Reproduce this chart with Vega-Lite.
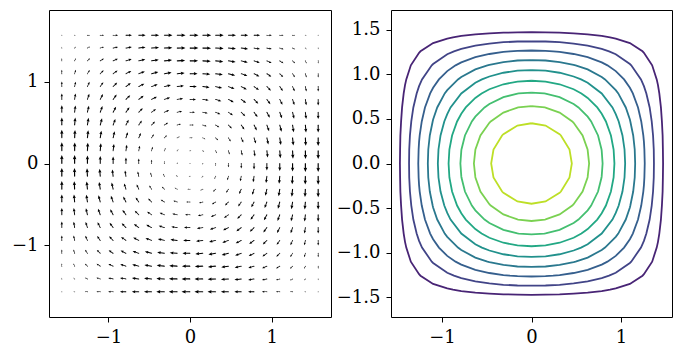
{
"$schema":"https://vega.github.io/schema/vega-lite/v6.json",
"padding":{"left":5,"top":9,"right":5,"bottom":5},
"config":{"font":"DejaVu Serif","view":{"stroke":"black","strokeWidth":1},"axis":{"domain":false,"grid":false,"labelFont":"DejaVu Serif","labelFontSize":18,"labelColor":"black","tickColor":"black","tickSize":5,"tickWidth":1,"labelPadding":6}},
"spacing":2,
"datasets":{
"quiver":[
{"x":-1.571,"y":-1.571,"a":0,"s":0},{"x":-1.414,"y":-1.571,"a":-90,"s":0.024},{"x":-1.257,"y":-1.571,"a":-90,"s":0.095},{"x":-1.1,"y":-1.571,"a":-90,"s":0.206},{"x":-0.942,"y":-1.571,"a":-90,"s":0.345},{"x":-0.785,"y":-1.571,"a":-90,"s":0.5},{"x":-0.628,"y":-1.571,"a":-90,"s":0.655},{"x":-0.471,"y":-1.571,"a":-90,"s":0.794},{"x":-0.314,"y":-1.571,"a":-90,"s":0.905},{"x":-0.157,"y":-1.571,"a":-90,"s":0.976},{"x":0,"y":-1.571,"a":-90,"s":1},{"x":0.157,"y":-1.571,"a":-90,"s":0.976},{"x":0.314,"y":-1.571,"a":-90,"s":0.905},{"x":0.471,"y":-1.571,"a":-90,"s":0.794},{"x":0.628,"y":-1.571,"a":-90,"s":0.655},{"x":0.785,"y":-1.571,"a":-90,"s":0.5},{"x":0.942,"y":-1.571,"a":-90,"s":0.345},{"x":1.1,"y":-1.571,"a":-90,"s":0.206},{"x":1.257,"y":-1.571,"a":-90,"s":0.095},{"x":1.414,"y":-1.571,"a":-90,"s":0.024},{"x":1.571,"y":-1.571,"a":-180,"s":0},
{"x":-1.571,"y":-1.414,"a":0,"s":0.024},{"x":-1.414,"y":-1.414,"a":-45,"s":0.048},{"x":-1.257,"y":-1.414,"a":-64,"s":0.115},{"x":-1.1,"y":-1.414,"a":-73,"s":0.221},{"x":-0.942,"y":-1.414,"a":-78,"s":0.353},{"x":-0.785,"y":-1.414,"a":-81,"s":0.5},{"x":-0.628,"y":-1.414,"a":-83,"s":0.647},{"x":-0.471,"y":-1.414,"a":-85,"s":0.779},{"x":-0.314,"y":-1.414,"a":-87,"s":0.885},{"x":-0.157,"y":-1.414,"a":-89,"s":0.952},{"x":0,"y":-1.414,"a":-90,"s":0.976},{"x":0.157,"y":-1.414,"a":-91,"s":0.952},{"x":0.314,"y":-1.414,"a":-93,"s":0.885},{"x":0.471,"y":-1.414,"a":-95,"s":0.779},{"x":0.628,"y":-1.414,"a":-97,"s":0.647},{"x":0.785,"y":-1.414,"a":-99,"s":0.5},{"x":0.942,"y":-1.414,"a":-102,"s":0.353},{"x":1.1,"y":-1.414,"a":-107,"s":0.221},{"x":1.257,"y":-1.414,"a":-116,"s":0.115},{"x":1.414,"y":-1.414,"a":-135,"s":0.048},{"x":1.571,"y":-1.414,"a":-180,"s":0.024},
{"x":-1.571,"y":-1.257,"a":0,"s":0.095},{"x":-1.414,"y":-1.257,"a":-26,"s":0.115},{"x":-1.257,"y":-1.257,"a":-45,"s":0.173},{"x":-1.1,"y":-1.257,"a":-58,"s":0.262},{"x":-0.942,"y":-1.257,"a":-66,"s":0.375},{"x":-0.785,"y":-1.257,"a":-72,"s":0.5},{"x":-0.628,"y":-1.257,"a":-77,"s":0.625},{"x":-0.471,"y":-1.257,"a":-81,"s":0.738},{"x":-0.314,"y":-1.257,"a":-84,"s":0.827},{"x":-0.157,"y":-1.257,"a":-87,"s":0.885},{"x":0,"y":-1.257,"a":-90,"s":0.905},{"x":0.157,"y":-1.257,"a":-93,"s":0.885},{"x":0.314,"y":-1.257,"a":-96,"s":0.827},{"x":0.471,"y":-1.257,"a":-99,"s":0.738},{"x":0.628,"y":-1.257,"a":-103,"s":0.625},{"x":0.785,"y":-1.257,"a":-108,"s":0.5},{"x":0.942,"y":-1.257,"a":-114,"s":0.375},{"x":1.1,"y":-1.257,"a":-122,"s":0.262},{"x":1.257,"y":-1.257,"a":-135,"s":0.173},{"x":1.414,"y":-1.257,"a":-154,"s":0.115},{"x":1.571,"y":-1.257,"a":-180,"s":0.095},
{"x":-1.571,"y":-1.1,"a":0,"s":0.206},{"x":-1.414,"y":-1.1,"a":-17,"s":0.221},{"x":-1.257,"y":-1.1,"a":-33,"s":0.262},{"x":-1.1,"y":-1.1,"a":-45,"s":0.327},{"x":-0.942,"y":-1.1,"a":-55,"s":0.409},{"x":-0.785,"y":-1.1,"a":-63,"s":0.5},{"x":-0.628,"y":-1.1,"a":-70,"s":0.591},{"x":-0.471,"y":-1.1,"a":-75,"s":0.673},{"x":-0.314,"y":-1.1,"a":-81,"s":0.738},{"x":-0.157,"y":-1.1,"a":-85,"s":0.779},{"x":0,"y":-1.1,"a":-90,"s":0.794},{"x":0.157,"y":-1.1,"a":-95,"s":0.779},{"x":0.314,"y":-1.1,"a":-99,"s":0.738},{"x":0.471,"y":-1.1,"a":-105,"s":0.673},{"x":0.628,"y":-1.1,"a":-110,"s":0.591},{"x":0.785,"y":-1.1,"a":-117,"s":0.5},{"x":0.942,"y":-1.1,"a":-125,"s":0.409},{"x":1.1,"y":-1.1,"a":-135,"s":0.327},{"x":1.257,"y":-1.1,"a":-147,"s":0.262},{"x":1.414,"y":-1.1,"a":-163,"s":0.221},{"x":1.571,"y":-1.1,"a":-180,"s":0.206},
{"x":-1.571,"y":-0.942,"a":0,"s":0.345},{"x":-1.414,"y":-0.942,"a":-12,"s":0.353},{"x":-1.257,"y":-0.942,"a":-24,"s":0.375},{"x":-1.1,"y":-0.942,"a":-35,"s":0.409},{"x":-0.942,"y":-0.942,"a":-45,"s":0.452},{"x":-0.785,"y":-0.942,"a":-54,"s":0.5},{"x":-0.628,"y":-0.942,"a":-62,"s":0.548},{"x":-0.471,"y":-0.942,"a":-70,"s":0.591},{"x":-0.314,"y":-0.942,"a":-77,"s":0.625},{"x":-0.157,"y":-0.942,"a":-83,"s":0.647},{"x":0,"y":-0.942,"a":-90,"s":0.655},{"x":0.157,"y":-0.942,"a":-97,"s":0.647},{"x":0.314,"y":-0.942,"a":-103,"s":0.625},{"x":0.471,"y":-0.942,"a":-110,"s":0.591},{"x":0.628,"y":-0.942,"a":-118,"s":0.548},{"x":0.785,"y":-0.942,"a":-126,"s":0.5},{"x":0.942,"y":-0.942,"a":-135,"s":0.452},{"x":1.1,"y":-0.942,"a":-145,"s":0.409},{"x":1.257,"y":-0.942,"a":-156,"s":0.375},{"x":1.414,"y":-0.942,"a":-168,"s":0.353},{"x":1.571,"y":-0.942,"a":-180,"s":0.345},
{"x":-1.571,"y":-0.785,"a":0,"s":0.5},{"x":-1.414,"y":-0.785,"a":-9,"s":0.5},{"x":-1.257,"y":-0.785,"a":-18,"s":0.5},{"x":-1.1,"y":-0.785,"a":-27,"s":0.5},{"x":-0.942,"y":-0.785,"a":-36,"s":0.5},{"x":-0.785,"y":-0.785,"a":-45,"s":0.5},{"x":-0.628,"y":-0.785,"a":-54,"s":0.5},{"x":-0.471,"y":-0.785,"a":-63,"s":0.5},{"x":-0.314,"y":-0.785,"a":-72,"s":0.5},{"x":-0.157,"y":-0.785,"a":-81,"s":0.5},{"x":0,"y":-0.785,"a":-90,"s":0.5},{"x":0.157,"y":-0.785,"a":-99,"s":0.5},{"x":0.314,"y":-0.785,"a":-108,"s":0.5},{"x":0.471,"y":-0.785,"a":-117,"s":0.5},{"x":0.628,"y":-0.785,"a":-126,"s":0.5},{"x":0.785,"y":-0.785,"a":-135,"s":0.5},{"x":0.942,"y":-0.785,"a":-144,"s":0.5},{"x":1.1,"y":-0.785,"a":-153,"s":0.5},{"x":1.257,"y":-0.785,"a":-162,"s":0.5},{"x":1.414,"y":-0.785,"a":-171,"s":0.5},{"x":1.571,"y":-0.785,"a":-180,"s":0.5},
{"x":-1.571,"y":-0.628,"a":0,"s":0.655},{"x":-1.414,"y":-0.628,"a":-7,"s":0.647},{"x":-1.257,"y":-0.628,"a":-13,"s":0.625},{"x":-1.1,"y":-0.628,"a":-20,"s":0.591},{"x":-0.942,"y":-0.628,"a":-28,"s":0.548},{"x":-0.785,"y":-0.628,"a":-36,"s":0.5},{"x":-0.628,"y":-0.628,"a":-45,"s":0.452},{"x":-0.471,"y":-0.628,"a":-55,"s":0.409},{"x":-0.314,"y":-0.628,"a":-66,"s":0.375},{"x":-0.157,"y":-0.628,"a":-78,"s":0.353},{"x":0,"y":-0.628,"a":-90,"s":0.345},{"x":0.157,"y":-0.628,"a":-102,"s":0.353},{"x":0.314,"y":-0.628,"a":-114,"s":0.375},{"x":0.471,"y":-0.628,"a":-125,"s":0.409},{"x":0.628,"y":-0.628,"a":-135,"s":0.452},{"x":0.785,"y":-0.628,"a":-144,"s":0.5},{"x":0.942,"y":-0.628,"a":-152,"s":0.548},{"x":1.1,"y":-0.628,"a":-160,"s":0.591},{"x":1.257,"y":-0.628,"a":-167,"s":0.625},{"x":1.414,"y":-0.628,"a":-173,"s":0.647},{"x":1.571,"y":-0.628,"a":-180,"s":0.655},
{"x":-1.571,"y":-0.471,"a":0,"s":0.794},{"x":-1.414,"y":-0.471,"a":-5,"s":0.779},{"x":-1.257,"y":-0.471,"a":-9,"s":0.738},{"x":-1.1,"y":-0.471,"a":-15,"s":0.673},{"x":-0.942,"y":-0.471,"a":-20,"s":0.591},{"x":-0.785,"y":-0.471,"a":-27,"s":0.5},{"x":-0.628,"y":-0.471,"a":-35,"s":0.409},{"x":-0.471,"y":-0.471,"a":-45,"s":0.327},{"x":-0.314,"y":-0.471,"a":-58,"s":0.262},{"x":-0.157,"y":-0.471,"a":-73,"s":0.221},{"x":0,"y":-0.471,"a":-90,"s":0.206},{"x":0.157,"y":-0.471,"a":-107,"s":0.221},{"x":0.314,"y":-0.471,"a":-122,"s":0.262},{"x":0.471,"y":-0.471,"a":-135,"s":0.327},{"x":0.628,"y":-0.471,"a":-145,"s":0.409},{"x":0.785,"y":-0.471,"a":-153,"s":0.5},{"x":0.942,"y":-0.471,"a":-160,"s":0.591},{"x":1.1,"y":-0.471,"a":-165,"s":0.673},{"x":1.257,"y":-0.471,"a":-171,"s":0.738},{"x":1.414,"y":-0.471,"a":-175,"s":0.779},{"x":1.571,"y":-0.471,"a":-180,"s":0.794},
{"x":-1.571,"y":-0.314,"a":0,"s":0.905},{"x":-1.414,"y":-0.314,"a":-3,"s":0.885},{"x":-1.257,"y":-0.314,"a":-6,"s":0.827},{"x":-1.1,"y":-0.314,"a":-9,"s":0.738},{"x":-0.942,"y":-0.314,"a":-13,"s":0.625},{"x":-0.785,"y":-0.314,"a":-18,"s":0.5},{"x":-0.628,"y":-0.314,"a":-24,"s":0.375},{"x":-0.471,"y":-0.314,"a":-33,"s":0.262},{"x":-0.314,"y":-0.314,"a":-45,"s":0.173},{"x":-0.157,"y":-0.314,"a":-64,"s":0.115},{"x":0,"y":-0.314,"a":-90,"s":0.095},{"x":0.157,"y":-0.314,"a":-116,"s":0.115},{"x":0.314,"y":-0.314,"a":-135,"s":0.173},{"x":0.471,"y":-0.314,"a":-147,"s":0.262},{"x":0.628,"y":-0.314,"a":-156,"s":0.375},{"x":0.785,"y":-0.314,"a":-162,"s":0.5},{"x":0.942,"y":-0.314,"a":-167,"s":0.625},{"x":1.1,"y":-0.314,"a":-171,"s":0.738},{"x":1.257,"y":-0.314,"a":-174,"s":0.827},{"x":1.414,"y":-0.314,"a":-177,"s":0.885},{"x":1.571,"y":-0.314,"a":-180,"s":0.905},
{"x":-1.571,"y":-0.157,"a":0,"s":0.976},{"x":-1.414,"y":-0.157,"a":-1,"s":0.952},{"x":-1.257,"y":-0.157,"a":-3,"s":0.885},{"x":-1.1,"y":-0.157,"a":-5,"s":0.779},{"x":-0.942,"y":-0.157,"a":-7,"s":0.647},{"x":-0.785,"y":-0.157,"a":-9,"s":0.5},{"x":-0.628,"y":-0.157,"a":-12,"s":0.353},{"x":-0.471,"y":-0.157,"a":-17,"s":0.221},{"x":-0.314,"y":-0.157,"a":-26,"s":0.115},{"x":-0.157,"y":-0.157,"a":-45,"s":0.048},{"x":0,"y":-0.157,"a":-90,"s":0.024},{"x":0.157,"y":-0.157,"a":-135,"s":0.048},{"x":0.314,"y":-0.157,"a":-154,"s":0.115},{"x":0.471,"y":-0.157,"a":-163,"s":0.221},{"x":0.628,"y":-0.157,"a":-168,"s":0.353},{"x":0.785,"y":-0.157,"a":-171,"s":0.5},{"x":0.942,"y":-0.157,"a":-173,"s":0.647},{"x":1.1,"y":-0.157,"a":-175,"s":0.779},{"x":1.257,"y":-0.157,"a":-177,"s":0.885},{"x":1.414,"y":-0.157,"a":-179,"s":0.952},{"x":1.571,"y":-0.157,"a":-180,"s":0.976},
{"x":-1.571,"y":0,"a":0,"s":1},{"x":-1.414,"y":0,"a":0,"s":0.976},{"x":-1.257,"y":0,"a":0,"s":0.905},{"x":-1.1,"y":0,"a":0,"s":0.794},{"x":-0.942,"y":0,"a":0,"s":0.655},{"x":-0.785,"y":0,"a":0,"s":0.5},{"x":-0.628,"y":0,"a":0,"s":0.345},{"x":-0.471,"y":0,"a":0,"s":0.206},{"x":-0.314,"y":0,"a":0,"s":0.095},{"x":-0.157,"y":0,"a":0,"s":0.024},{"x":0,"y":0,"a":0,"s":0},{"x":0.157,"y":0,"a":-180,"s":0.024},{"x":0.314,"y":0,"a":-180,"s":0.095},{"x":0.471,"y":0,"a":-180,"s":0.206},{"x":0.628,"y":0,"a":-180,"s":0.345},{"x":0.785,"y":0,"a":-180,"s":0.5},{"x":0.942,"y":0,"a":-180,"s":0.655},{"x":1.1,"y":0,"a":-180,"s":0.794},{"x":1.257,"y":0,"a":-180,"s":0.905},{"x":1.414,"y":0,"a":-180,"s":0.976},{"x":1.571,"y":0,"a":-180,"s":1},
{"x":-1.571,"y":0.157,"a":0,"s":0.976},{"x":-1.414,"y":0.157,"a":1,"s":0.952},{"x":-1.257,"y":0.157,"a":3,"s":0.885},{"x":-1.1,"y":0.157,"a":5,"s":0.779},{"x":-0.942,"y":0.157,"a":7,"s":0.647},{"x":-0.785,"y":0.157,"a":9,"s":0.5},{"x":-0.628,"y":0.157,"a":12,"s":0.353},{"x":-0.471,"y":0.157,"a":17,"s":0.221},{"x":-0.314,"y":0.157,"a":26,"s":0.115},{"x":-0.157,"y":0.157,"a":45,"s":0.048},{"x":0,"y":0.157,"a":90,"s":0.024},{"x":0.157,"y":0.157,"a":135,"s":0.048},{"x":0.314,"y":0.157,"a":154,"s":0.115},{"x":0.471,"y":0.157,"a":163,"s":0.221},{"x":0.628,"y":0.157,"a":168,"s":0.353},{"x":0.785,"y":0.157,"a":171,"s":0.5},{"x":0.942,"y":0.157,"a":173,"s":0.647},{"x":1.1,"y":0.157,"a":175,"s":0.779},{"x":1.257,"y":0.157,"a":177,"s":0.885},{"x":1.414,"y":0.157,"a":179,"s":0.952},{"x":1.571,"y":0.157,"a":180,"s":0.976},
{"x":-1.571,"y":0.314,"a":0,"s":0.905},{"x":-1.414,"y":0.314,"a":3,"s":0.885},{"x":-1.257,"y":0.314,"a":6,"s":0.827},{"x":-1.1,"y":0.314,"a":9,"s":0.738},{"x":-0.942,"y":0.314,"a":13,"s":0.625},{"x":-0.785,"y":0.314,"a":18,"s":0.5},{"x":-0.628,"y":0.314,"a":24,"s":0.375},{"x":-0.471,"y":0.314,"a":33,"s":0.262},{"x":-0.314,"y":0.314,"a":45,"s":0.173},{"x":-0.157,"y":0.314,"a":64,"s":0.115},{"x":0,"y":0.314,"a":90,"s":0.095},{"x":0.157,"y":0.314,"a":116,"s":0.115},{"x":0.314,"y":0.314,"a":135,"s":0.173},{"x":0.471,"y":0.314,"a":147,"s":0.262},{"x":0.628,"y":0.314,"a":156,"s":0.375},{"x":0.785,"y":0.314,"a":162,"s":0.5},{"x":0.942,"y":0.314,"a":167,"s":0.625},{"x":1.1,"y":0.314,"a":171,"s":0.738},{"x":1.257,"y":0.314,"a":174,"s":0.827},{"x":1.414,"y":0.314,"a":177,"s":0.885},{"x":1.571,"y":0.314,"a":180,"s":0.905},
{"x":-1.571,"y":0.471,"a":0,"s":0.794},{"x":-1.414,"y":0.471,"a":5,"s":0.779},{"x":-1.257,"y":0.471,"a":9,"s":0.738},{"x":-1.1,"y":0.471,"a":15,"s":0.673},{"x":-0.942,"y":0.471,"a":20,"s":0.591},{"x":-0.785,"y":0.471,"a":27,"s":0.5},{"x":-0.628,"y":0.471,"a":35,"s":0.409},{"x":-0.471,"y":0.471,"a":45,"s":0.327},{"x":-0.314,"y":0.471,"a":58,"s":0.262},{"x":-0.157,"y":0.471,"a":73,"s":0.221},{"x":0,"y":0.471,"a":90,"s":0.206},{"x":0.157,"y":0.471,"a":107,"s":0.221},{"x":0.314,"y":0.471,"a":122,"s":0.262},{"x":0.471,"y":0.471,"a":135,"s":0.327},{"x":0.628,"y":0.471,"a":145,"s":0.409},{"x":0.785,"y":0.471,"a":153,"s":0.5},{"x":0.942,"y":0.471,"a":160,"s":0.591},{"x":1.1,"y":0.471,"a":165,"s":0.673},{"x":1.257,"y":0.471,"a":171,"s":0.738},{"x":1.414,"y":0.471,"a":175,"s":0.779},{"x":1.571,"y":0.471,"a":180,"s":0.794},
{"x":-1.571,"y":0.628,"a":0,"s":0.655},{"x":-1.414,"y":0.628,"a":7,"s":0.647},{"x":-1.257,"y":0.628,"a":13,"s":0.625},{"x":-1.1,"y":0.628,"a":20,"s":0.591},{"x":-0.942,"y":0.628,"a":28,"s":0.548},{"x":-0.785,"y":0.628,"a":36,"s":0.5},{"x":-0.628,"y":0.628,"a":45,"s":0.452},{"x":-0.471,"y":0.628,"a":55,"s":0.409},{"x":-0.314,"y":0.628,"a":66,"s":0.375},{"x":-0.157,"y":0.628,"a":78,"s":0.353},{"x":0,"y":0.628,"a":90,"s":0.345},{"x":0.157,"y":0.628,"a":102,"s":0.353},{"x":0.314,"y":0.628,"a":114,"s":0.375},{"x":0.471,"y":0.628,"a":125,"s":0.409},{"x":0.628,"y":0.628,"a":135,"s":0.452},{"x":0.785,"y":0.628,"a":144,"s":0.5},{"x":0.942,"y":0.628,"a":152,"s":0.548},{"x":1.1,"y":0.628,"a":160,"s":0.591},{"x":1.257,"y":0.628,"a":167,"s":0.625},{"x":1.414,"y":0.628,"a":173,"s":0.647},{"x":1.571,"y":0.628,"a":180,"s":0.655},
{"x":-1.571,"y":0.785,"a":0,"s":0.5},{"x":-1.414,"y":0.785,"a":9,"s":0.5},{"x":-1.257,"y":0.785,"a":18,"s":0.5},{"x":-1.1,"y":0.785,"a":27,"s":0.5},{"x":-0.942,"y":0.785,"a":36,"s":0.5},{"x":-0.785,"y":0.785,"a":45,"s":0.5},{"x":-0.628,"y":0.785,"a":54,"s":0.5},{"x":-0.471,"y":0.785,"a":63,"s":0.5},{"x":-0.314,"y":0.785,"a":72,"s":0.5},{"x":-0.157,"y":0.785,"a":81,"s":0.5},{"x":0,"y":0.785,"a":90,"s":0.5},{"x":0.157,"y":0.785,"a":99,"s":0.5},{"x":0.314,"y":0.785,"a":108,"s":0.5},{"x":0.471,"y":0.785,"a":117,"s":0.5},{"x":0.628,"y":0.785,"a":126,"s":0.5},{"x":0.785,"y":0.785,"a":135,"s":0.5},{"x":0.942,"y":0.785,"a":144,"s":0.5},{"x":1.1,"y":0.785,"a":153,"s":0.5},{"x":1.257,"y":0.785,"a":162,"s":0.5},{"x":1.414,"y":0.785,"a":171,"s":0.5},{"x":1.571,"y":0.785,"a":180,"s":0.5},
{"x":-1.571,"y":0.942,"a":0,"s":0.345},{"x":-1.414,"y":0.942,"a":12,"s":0.353},{"x":-1.257,"y":0.942,"a":24,"s":0.375},{"x":-1.1,"y":0.942,"a":35,"s":0.409},{"x":-0.942,"y":0.942,"a":45,"s":0.452},{"x":-0.785,"y":0.942,"a":54,"s":0.5},{"x":-0.628,"y":0.942,"a":62,"s":0.548},{"x":-0.471,"y":0.942,"a":70,"s":0.591},{"x":-0.314,"y":0.942,"a":77,"s":0.625},{"x":-0.157,"y":0.942,"a":83,"s":0.647},{"x":0,"y":0.942,"a":90,"s":0.655},{"x":0.157,"y":0.942,"a":97,"s":0.647},{"x":0.314,"y":0.942,"a":103,"s":0.625},{"x":0.471,"y":0.942,"a":110,"s":0.591},{"x":0.628,"y":0.942,"a":118,"s":0.548},{"x":0.785,"y":0.942,"a":126,"s":0.5},{"x":0.942,"y":0.942,"a":135,"s":0.452},{"x":1.1,"y":0.942,"a":145,"s":0.409},{"x":1.257,"y":0.942,"a":156,"s":0.375},{"x":1.414,"y":0.942,"a":168,"s":0.353},{"x":1.571,"y":0.942,"a":180,"s":0.345},
{"x":-1.571,"y":1.1,"a":0,"s":0.206},{"x":-1.414,"y":1.1,"a":17,"s":0.221},{"x":-1.257,"y":1.1,"a":33,"s":0.262},{"x":-1.1,"y":1.1,"a":45,"s":0.327},{"x":-0.942,"y":1.1,"a":55,"s":0.409},{"x":-0.785,"y":1.1,"a":63,"s":0.5},{"x":-0.628,"y":1.1,"a":70,"s":0.591},{"x":-0.471,"y":1.1,"a":75,"s":0.673},{"x":-0.314,"y":1.1,"a":81,"s":0.738},{"x":-0.157,"y":1.1,"a":85,"s":0.779},{"x":0,"y":1.1,"a":90,"s":0.794},{"x":0.157,"y":1.1,"a":95,"s":0.779},{"x":0.314,"y":1.1,"a":99,"s":0.738},{"x":0.471,"y":1.1,"a":105,"s":0.673},{"x":0.628,"y":1.1,"a":110,"s":0.591},{"x":0.785,"y":1.1,"a":117,"s":0.5},{"x":0.942,"y":1.1,"a":125,"s":0.409},{"x":1.1,"y":1.1,"a":135,"s":0.327},{"x":1.257,"y":1.1,"a":147,"s":0.262},{"x":1.414,"y":1.1,"a":163,"s":0.221},{"x":1.571,"y":1.1,"a":180,"s":0.206},
{"x":-1.571,"y":1.257,"a":0,"s":0.095},{"x":-1.414,"y":1.257,"a":26,"s":0.115},{"x":-1.257,"y":1.257,"a":45,"s":0.173},{"x":-1.1,"y":1.257,"a":58,"s":0.262},{"x":-0.942,"y":1.257,"a":66,"s":0.375},{"x":-0.785,"y":1.257,"a":72,"s":0.5},{"x":-0.628,"y":1.257,"a":77,"s":0.625},{"x":-0.471,"y":1.257,"a":81,"s":0.738},{"x":-0.314,"y":1.257,"a":84,"s":0.827},{"x":-0.157,"y":1.257,"a":87,"s":0.885},{"x":0,"y":1.257,"a":90,"s":0.905},{"x":0.157,"y":1.257,"a":93,"s":0.885},{"x":0.314,"y":1.257,"a":96,"s":0.827},{"x":0.471,"y":1.257,"a":99,"s":0.738},{"x":0.628,"y":1.257,"a":103,"s":0.625},{"x":0.785,"y":1.257,"a":108,"s":0.5},{"x":0.942,"y":1.257,"a":114,"s":0.375},{"x":1.1,"y":1.257,"a":122,"s":0.262},{"x":1.257,"y":1.257,"a":135,"s":0.173},{"x":1.414,"y":1.257,"a":154,"s":0.115},{"x":1.571,"y":1.257,"a":180,"s":0.095},
{"x":-1.571,"y":1.414,"a":0,"s":0.024},{"x":-1.414,"y":1.414,"a":45,"s":0.048},{"x":-1.257,"y":1.414,"a":64,"s":0.115},{"x":-1.1,"y":1.414,"a":73,"s":0.221},{"x":-0.942,"y":1.414,"a":78,"s":0.353},{"x":-0.785,"y":1.414,"a":81,"s":0.5},{"x":-0.628,"y":1.414,"a":83,"s":0.647},{"x":-0.471,"y":1.414,"a":85,"s":0.779},{"x":-0.314,"y":1.414,"a":87,"s":0.885},{"x":-0.157,"y":1.414,"a":89,"s":0.952},{"x":0,"y":1.414,"a":90,"s":0.976},{"x":0.157,"y":1.414,"a":91,"s":0.952},{"x":0.314,"y":1.414,"a":93,"s":0.885},{"x":0.471,"y":1.414,"a":95,"s":0.779},{"x":0.628,"y":1.414,"a":97,"s":0.647},{"x":0.785,"y":1.414,"a":99,"s":0.5},{"x":0.942,"y":1.414,"a":102,"s":0.353},{"x":1.1,"y":1.414,"a":107,"s":0.221},{"x":1.257,"y":1.414,"a":116,"s":0.115},{"x":1.414,"y":1.414,"a":135,"s":0.048},{"x":1.571,"y":1.414,"a":180,"s":0.024},
{"x":-1.571,"y":1.571,"a":0,"s":0},{"x":-1.414,"y":1.571,"a":90,"s":0.024},{"x":-1.257,"y":1.571,"a":90,"s":0.095},{"x":-1.1,"y":1.571,"a":90,"s":0.206},{"x":-0.942,"y":1.571,"a":90,"s":0.345},{"x":-0.785,"y":1.571,"a":90,"s":0.5},{"x":-0.628,"y":1.571,"a":90,"s":0.655},{"x":-0.471,"y":1.571,"a":90,"s":0.794},{"x":-0.314,"y":1.571,"a":90,"s":0.905},{"x":-0.157,"y":1.571,"a":90,"s":0.976},{"x":0,"y":1.571,"a":90,"s":1},{"x":0.157,"y":1.571,"a":90,"s":0.976},{"x":0.314,"y":1.571,"a":90,"s":0.905},{"x":0.471,"y":1.571,"a":90,"s":0.794},{"x":0.628,"y":1.571,"a":90,"s":0.655},{"x":0.785,"y":1.571,"a":90,"s":0.5},{"x":0.942,"y":1.571,"a":90,"s":0.345},{"x":1.1,"y":1.571,"a":90,"s":0.206},{"x":1.257,"y":1.571,"a":90,"s":0.095},{"x":1.414,"y":1.571,"a":90,"s":0.024},{"x":1.571,"y":1.571,"a":180,"s":0}
],
"contours":[
{"c":0.1,"x":0,"y":1.471},{"c":0.1,"x":0.157,"y":1.469},{"c":0.1,"x":0.314,"y":1.466},{"c":0.1,"x":0.471,"y":1.458},{"c":0.1,"x":0.628,"y":1.447},{"c":0.1,"x":0.785,"y":1.429},{"c":0.1,"x":0.878,"y":1.414},{"c":0.1,"x":0.942,"y":1.4},{"c":0.1,"x":1.1,"y":1.349},{"c":0.1,"x":1.241,"y":1.257},{"c":0.1,"x":1.257,"y":1.241},{"c":0.1,"x":1.349,"y":1.1},{"c":0.1,"x":1.4,"y":0.942},{"c":0.1,"x":1.414,"y":0.878},{"c":0.1,"x":1.429,"y":0.785},{"c":0.1,"x":1.447,"y":0.628},{"c":0.1,"x":1.458,"y":0.471},{"c":0.1,"x":1.466,"y":0.314},{"c":0.1,"x":1.469,"y":0.157},{"c":0.1,"x":1.471,"y":0},
{"c":0.1,"x":1.469,"y":-0.157},{"c":0.1,"x":1.466,"y":-0.314},{"c":0.1,"x":1.458,"y":-0.471},{"c":0.1,"x":1.447,"y":-0.628},{"c":0.1,"x":1.429,"y":-0.785},{"c":0.1,"x":1.414,"y":-0.878},{"c":0.1,"x":1.4,"y":-0.942},{"c":0.1,"x":1.349,"y":-1.1},{"c":0.1,"x":1.257,"y":-1.241},{"c":0.1,"x":1.241,"y":-1.257},{"c":0.1,"x":1.1,"y":-1.349},{"c":0.1,"x":0.942,"y":-1.4},{"c":0.1,"x":0.878,"y":-1.414},{"c":0.1,"x":0.785,"y":-1.429},{"c":0.1,"x":0.628,"y":-1.447},{"c":0.1,"x":0.471,"y":-1.458},{"c":0.1,"x":0.314,"y":-1.466},{"c":0.1,"x":0.157,"y":-1.469},{"c":0.1,"x":0,"y":-1.471},
{"c":0.1,"x":-0.157,"y":-1.469},{"c":0.1,"x":-0.314,"y":-1.466},{"c":0.1,"x":-0.471,"y":-1.458},{"c":0.1,"x":-0.628,"y":-1.447},{"c":0.1,"x":-0.785,"y":-1.429},{"c":0.1,"x":-0.878,"y":-1.414},{"c":0.1,"x":-0.942,"y":-1.4},{"c":0.1,"x":-1.1,"y":-1.349},{"c":0.1,"x":-1.241,"y":-1.257},{"c":0.1,"x":-1.257,"y":-1.241},{"c":0.1,"x":-1.349,"y":-1.1},{"c":0.1,"x":-1.4,"y":-0.942},{"c":0.1,"x":-1.414,"y":-0.878},{"c":0.1,"x":-1.429,"y":-0.785},{"c":0.1,"x":-1.447,"y":-0.628},{"c":0.1,"x":-1.458,"y":-0.471},{"c":0.1,"x":-1.466,"y":-0.314},{"c":0.1,"x":-1.469,"y":-0.157},{"c":0.1,"x":-1.471,"y":0},
{"c":0.1,"x":-1.469,"y":0.157},{"c":0.1,"x":-1.466,"y":0.314},{"c":0.1,"x":-1.458,"y":0.471},{"c":0.1,"x":-1.447,"y":0.628},{"c":0.1,"x":-1.429,"y":0.785},{"c":0.1,"x":-1.414,"y":0.878},{"c":0.1,"x":-1.4,"y":0.942},{"c":0.1,"x":-1.349,"y":1.1},{"c":0.1,"x":-1.257,"y":1.241},{"c":0.1,"x":-1.241,"y":1.257},{"c":0.1,"x":-1.1,"y":1.349},{"c":0.1,"x":-0.942,"y":1.4},{"c":0.1,"x":-0.878,"y":1.414},{"c":0.1,"x":-0.785,"y":1.429},{"c":0.1,"x":-0.628,"y":1.447},{"c":0.1,"x":-0.471,"y":1.458},{"c":0.1,"x":-0.314,"y":1.466},{"c":0.1,"x":-0.157,"y":1.469},{"c":0.1,"x":0,"y":1.471},
{"c":0.2,"x":0,"y":1.369},{"c":0.2,"x":0.157,"y":1.367},{"c":0.2,"x":0.314,"y":1.359},{"c":0.2,"x":0.471,"y":1.344},{"c":0.2,"x":0.628,"y":1.321},{"c":0.2,"x":0.785,"y":1.284},{"c":0.2,"x":0.867,"y":1.257},{"c":0.2,"x":0.942,"y":1.224},{"c":0.2,"x":1.1,"y":1.115},{"c":0.2,"x":1.115,"y":1.1},{"c":0.2,"x":1.224,"y":0.942},{"c":0.2,"x":1.257,"y":0.867},{"c":0.2,"x":1.284,"y":0.785},{"c":0.2,"x":1.321,"y":0.628},{"c":0.2,"x":1.344,"y":0.471},{"c":0.2,"x":1.359,"y":0.314},{"c":0.2,"x":1.367,"y":0.157},{"c":0.2,"x":1.369,"y":0},
{"c":0.2,"x":1.367,"y":-0.157},{"c":0.2,"x":1.359,"y":-0.314},{"c":0.2,"x":1.344,"y":-0.471},{"c":0.2,"x":1.321,"y":-0.628},{"c":0.2,"x":1.284,"y":-0.785},{"c":0.2,"x":1.257,"y":-0.867},{"c":0.2,"x":1.224,"y":-0.942},{"c":0.2,"x":1.115,"y":-1.1},{"c":0.2,"x":1.1,"y":-1.115},{"c":0.2,"x":0.942,"y":-1.224},{"c":0.2,"x":0.867,"y":-1.257},{"c":0.2,"x":0.785,"y":-1.284},{"c":0.2,"x":0.628,"y":-1.321},{"c":0.2,"x":0.471,"y":-1.344},{"c":0.2,"x":0.314,"y":-1.359},{"c":0.2,"x":0.157,"y":-1.367},{"c":0.2,"x":0,"y":-1.369},
{"c":0.2,"x":-0.157,"y":-1.367},{"c":0.2,"x":-0.314,"y":-1.359},{"c":0.2,"x":-0.471,"y":-1.344},{"c":0.2,"x":-0.628,"y":-1.321},{"c":0.2,"x":-0.785,"y":-1.284},{"c":0.2,"x":-0.867,"y":-1.257},{"c":0.2,"x":-0.942,"y":-1.224},{"c":0.2,"x":-1.1,"y":-1.115},{"c":0.2,"x":-1.115,"y":-1.1},{"c":0.2,"x":-1.224,"y":-0.942},{"c":0.2,"x":-1.257,"y":-0.867},{"c":0.2,"x":-1.284,"y":-0.785},{"c":0.2,"x":-1.321,"y":-0.628},{"c":0.2,"x":-1.344,"y":-0.471},{"c":0.2,"x":-1.359,"y":-0.314},{"c":0.2,"x":-1.367,"y":-0.157},{"c":0.2,"x":-1.369,"y":0},
{"c":0.2,"x":-1.367,"y":0.157},{"c":0.2,"x":-1.359,"y":0.314},{"c":0.2,"x":-1.344,"y":0.471},{"c":0.2,"x":-1.321,"y":0.628},{"c":0.2,"x":-1.284,"y":0.785},{"c":0.2,"x":-1.257,"y":0.867},{"c":0.2,"x":-1.224,"y":0.942},{"c":0.2,"x":-1.115,"y":1.1},{"c":0.2,"x":-1.1,"y":1.115},{"c":0.2,"x":-0.942,"y":1.224},{"c":0.2,"x":-0.867,"y":1.257},{"c":0.2,"x":-0.785,"y":1.284},{"c":0.2,"x":-0.628,"y":1.321},{"c":0.2,"x":-0.471,"y":1.344},{"c":0.2,"x":-0.314,"y":1.359},{"c":0.2,"x":-0.157,"y":1.367},{"c":0.2,"x":0,"y":1.369},
{"c":0.3,"x":0,"y":1.266},{"c":0.3,"x":0.157,"y":1.262},{"c":0.3,"x":0.242,"y":1.257},{"c":0.3,"x":0.314,"y":1.25},{"c":0.3,"x":0.471,"y":1.227},{"c":0.3,"x":0.628,"y":1.191},{"c":0.3,"x":0.785,"y":1.133},{"c":0.3,"x":0.849,"y":1.1},{"c":0.3,"x":0.942,"y":1.035},{"c":0.3,"x":1.035,"y":0.942},{"c":0.3,"x":1.1,"y":0.849},{"c":0.3,"x":1.133,"y":0.785},{"c":0.3,"x":1.191,"y":0.628},{"c":0.3,"x":1.227,"y":0.471},{"c":0.3,"x":1.25,"y":0.314},{"c":0.3,"x":1.257,"y":0.242},{"c":0.3,"x":1.262,"y":0.157},{"c":0.3,"x":1.266,"y":0},
{"c":0.3,"x":1.262,"y":-0.157},{"c":0.3,"x":1.257,"y":-0.242},{"c":0.3,"x":1.25,"y":-0.314},{"c":0.3,"x":1.227,"y":-0.471},{"c":0.3,"x":1.191,"y":-0.628},{"c":0.3,"x":1.133,"y":-0.785},{"c":0.3,"x":1.1,"y":-0.849},{"c":0.3,"x":1.035,"y":-0.942},{"c":0.3,"x":0.942,"y":-1.035},{"c":0.3,"x":0.849,"y":-1.1},{"c":0.3,"x":0.785,"y":-1.133},{"c":0.3,"x":0.628,"y":-1.191},{"c":0.3,"x":0.471,"y":-1.227},{"c":0.3,"x":0.314,"y":-1.25},{"c":0.3,"x":0.242,"y":-1.257},{"c":0.3,"x":0.157,"y":-1.262},{"c":0.3,"x":0,"y":-1.266},
{"c":0.3,"x":-0.157,"y":-1.262},{"c":0.3,"x":-0.242,"y":-1.257},{"c":0.3,"x":-0.314,"y":-1.25},{"c":0.3,"x":-0.471,"y":-1.227},{"c":0.3,"x":-0.628,"y":-1.191},{"c":0.3,"x":-0.785,"y":-1.133},{"c":0.3,"x":-0.849,"y":-1.1},{"c":0.3,"x":-0.942,"y":-1.035},{"c":0.3,"x":-1.035,"y":-0.942},{"c":0.3,"x":-1.1,"y":-0.849},{"c":0.3,"x":-1.133,"y":-0.785},{"c":0.3,"x":-1.191,"y":-0.628},{"c":0.3,"x":-1.227,"y":-0.471},{"c":0.3,"x":-1.25,"y":-0.314},{"c":0.3,"x":-1.257,"y":-0.242},{"c":0.3,"x":-1.262,"y":-0.157},{"c":0.3,"x":-1.266,"y":0},
{"c":0.3,"x":-1.262,"y":0.157},{"c":0.3,"x":-1.257,"y":0.242},{"c":0.3,"x":-1.25,"y":0.314},{"c":0.3,"x":-1.227,"y":0.471},{"c":0.3,"x":-1.191,"y":0.628},{"c":0.3,"x":-1.133,"y":0.785},{"c":0.3,"x":-1.1,"y":0.849},{"c":0.3,"x":-1.035,"y":0.942},{"c":0.3,"x":-0.942,"y":1.035},{"c":0.3,"x":-0.849,"y":1.1},{"c":0.3,"x":-0.785,"y":1.133},{"c":0.3,"x":-0.628,"y":1.191},{"c":0.3,"x":-0.471,"y":1.227},{"c":0.3,"x":-0.314,"y":1.25},{"c":0.3,"x":-0.242,"y":1.257},{"c":0.3,"x":-0.157,"y":1.262},{"c":0.3,"x":0,"y":1.266},
{"c":0.4,"x":0,"y":1.159},{"c":0.4,"x":0.157,"y":1.154},{"c":0.4,"x":0.314,"y":1.137},{"c":0.4,"x":0.471,"y":1.105},{"c":0.4,"x":0.493,"y":1.1},{"c":0.4,"x":0.628,"y":1.054},{"c":0.4,"x":0.785,"y":0.97},{"c":0.4,"x":0.822,"y":0.942},{"c":0.4,"x":0.942,"y":0.822},{"c":0.4,"x":0.97,"y":0.785},{"c":0.4,"x":1.054,"y":0.628},{"c":0.4,"x":1.1,"y":0.493},{"c":0.4,"x":1.105,"y":0.471},{"c":0.4,"x":1.137,"y":0.314},{"c":0.4,"x":1.154,"y":0.157},{"c":0.4,"x":1.159,"y":0},
{"c":0.4,"x":1.154,"y":-0.157},{"c":0.4,"x":1.137,"y":-0.314},{"c":0.4,"x":1.105,"y":-0.471},{"c":0.4,"x":1.1,"y":-0.493},{"c":0.4,"x":1.054,"y":-0.628},{"c":0.4,"x":0.97,"y":-0.785},{"c":0.4,"x":0.942,"y":-0.822},{"c":0.4,"x":0.822,"y":-0.942},{"c":0.4,"x":0.785,"y":-0.97},{"c":0.4,"x":0.628,"y":-1.054},{"c":0.4,"x":0.493,"y":-1.1},{"c":0.4,"x":0.471,"y":-1.105},{"c":0.4,"x":0.314,"y":-1.137},{"c":0.4,"x":0.157,"y":-1.154},{"c":0.4,"x":0,"y":-1.159},
{"c":0.4,"x":-0.157,"y":-1.154},{"c":0.4,"x":-0.314,"y":-1.137},{"c":0.4,"x":-0.471,"y":-1.105},{"c":0.4,"x":-0.493,"y":-1.1},{"c":0.4,"x":-0.628,"y":-1.054},{"c":0.4,"x":-0.785,"y":-0.97},{"c":0.4,"x":-0.822,"y":-0.942},{"c":0.4,"x":-0.942,"y":-0.822},{"c":0.4,"x":-0.97,"y":-0.785},{"c":0.4,"x":-1.054,"y":-0.628},{"c":0.4,"x":-1.1,"y":-0.493},{"c":0.4,"x":-1.105,"y":-0.471},{"c":0.4,"x":-1.137,"y":-0.314},{"c":0.4,"x":-1.154,"y":-0.157},{"c":0.4,"x":-1.159,"y":0},
{"c":0.4,"x":-1.154,"y":0.157},{"c":0.4,"x":-1.137,"y":0.314},{"c":0.4,"x":-1.105,"y":0.471},{"c":0.4,"x":-1.1,"y":0.493},{"c":0.4,"x":-1.054,"y":0.628},{"c":0.4,"x":-0.97,"y":0.785},{"c":0.4,"x":-0.942,"y":0.822},{"c":0.4,"x":-0.822,"y":0.942},{"c":0.4,"x":-0.785,"y":0.97},{"c":0.4,"x":-0.628,"y":1.054},{"c":0.4,"x":-0.493,"y":1.1},{"c":0.4,"x":-0.471,"y":1.105},{"c":0.4,"x":-0.314,"y":1.137},{"c":0.4,"x":-0.157,"y":1.154},{"c":0.4,"x":0,"y":1.159},
{"c":0.5,"x":0,"y":1.047},{"c":0.5,"x":0.157,"y":1.04},{"c":0.5,"x":0.314,"y":1.017},{"c":0.5,"x":0.471,"y":0.975},{"c":0.5,"x":0.554,"y":0.942},{"c":0.5,"x":0.628,"y":0.905},{"c":0.5,"x":0.785,"y":0.785},{"c":0.5,"x":0.905,"y":0.628},{"c":0.5,"x":0.942,"y":0.554},{"c":0.5,"x":0.975,"y":0.471},{"c":0.5,"x":1.017,"y":0.314},{"c":0.5,"x":1.04,"y":0.157},{"c":0.5,"x":1.047,"y":0},
{"c":0.5,"x":1.04,"y":-0.157},{"c":0.5,"x":1.017,"y":-0.314},{"c":0.5,"x":0.975,"y":-0.471},{"c":0.5,"x":0.942,"y":-0.554},{"c":0.5,"x":0.905,"y":-0.628},{"c":0.5,"x":0.785,"y":-0.785},{"c":0.5,"x":0.628,"y":-0.905},{"c":0.5,"x":0.554,"y":-0.942},{"c":0.5,"x":0.471,"y":-0.975},{"c":0.5,"x":0.314,"y":-1.017},{"c":0.5,"x":0.157,"y":-1.04},{"c":0.5,"x":0,"y":-1.047},
{"c":0.5,"x":-0.157,"y":-1.04},{"c":0.5,"x":-0.314,"y":-1.017},{"c":0.5,"x":-0.471,"y":-0.975},{"c":0.5,"x":-0.554,"y":-0.942},{"c":0.5,"x":-0.628,"y":-0.905},{"c":0.5,"x":-0.785,"y":-0.785},{"c":0.5,"x":-0.905,"y":-0.628},{"c":0.5,"x":-0.942,"y":-0.554},{"c":0.5,"x":-0.975,"y":-0.471},{"c":0.5,"x":-1.017,"y":-0.314},{"c":0.5,"x":-1.04,"y":-0.157},{"c":0.5,"x":-1.047,"y":0},
{"c":0.5,"x":-1.04,"y":0.157},{"c":0.5,"x":-1.017,"y":0.314},{"c":0.5,"x":-0.975,"y":0.471},{"c":0.5,"x":-0.942,"y":0.554},{"c":0.5,"x":-0.905,"y":0.628},{"c":0.5,"x":-0.785,"y":0.785},{"c":0.5,"x":-0.628,"y":0.905},{"c":0.5,"x":-0.554,"y":0.942},{"c":0.5,"x":-0.471,"y":0.975},{"c":0.5,"x":-0.314,"y":1.017},{"c":0.5,"x":-0.157,"y":1.04},{"c":0.5,"x":0,"y":1.047},
{"c":0.6,"x":0,"y":0.927},{"c":0.6,"x":0.157,"y":0.918},{"c":0.6,"x":0.314,"y":0.888},{"c":0.6,"x":0.471,"y":0.832},{"c":0.6,"x":0.558,"y":0.785},{"c":0.6,"x":0.628,"y":0.735},{"c":0.6,"x":0.735,"y":0.628},{"c":0.6,"x":0.785,"y":0.558},{"c":0.6,"x":0.832,"y":0.471},{"c":0.6,"x":0.888,"y":0.314},{"c":0.6,"x":0.918,"y":0.157},{"c":0.6,"x":0.927,"y":0},
{"c":0.6,"x":0.918,"y":-0.157},{"c":0.6,"x":0.888,"y":-0.314},{"c":0.6,"x":0.832,"y":-0.471},{"c":0.6,"x":0.785,"y":-0.558},{"c":0.6,"x":0.735,"y":-0.628},{"c":0.6,"x":0.628,"y":-0.735},{"c":0.6,"x":0.558,"y":-0.785},{"c":0.6,"x":0.471,"y":-0.832},{"c":0.6,"x":0.314,"y":-0.888},{"c":0.6,"x":0.157,"y":-0.918},{"c":0.6,"x":0,"y":-0.927},
{"c":0.6,"x":-0.157,"y":-0.918},{"c":0.6,"x":-0.314,"y":-0.888},{"c":0.6,"x":-0.471,"y":-0.832},{"c":0.6,"x":-0.558,"y":-0.785},{"c":0.6,"x":-0.628,"y":-0.735},{"c":0.6,"x":-0.735,"y":-0.628},{"c":0.6,"x":-0.785,"y":-0.558},{"c":0.6,"x":-0.832,"y":-0.471},{"c":0.6,"x":-0.888,"y":-0.314},{"c":0.6,"x":-0.918,"y":-0.157},{"c":0.6,"x":-0.927,"y":0},
{"c":0.6,"x":-0.918,"y":0.157},{"c":0.6,"x":-0.888,"y":0.314},{"c":0.6,"x":-0.832,"y":0.471},{"c":0.6,"x":-0.785,"y":0.558},{"c":0.6,"x":-0.735,"y":0.628},{"c":0.6,"x":-0.628,"y":0.735},{"c":0.6,"x":-0.558,"y":0.785},{"c":0.6,"x":-0.471,"y":0.832},{"c":0.6,"x":-0.314,"y":0.888},{"c":0.6,"x":-0.157,"y":0.918},{"c":0.6,"x":0,"y":0.927},
{"c":0.7,"x":0,"y":0.795},{"c":0.7,"x":0.142,"y":0.785},{"c":0.7,"x":0.157,"y":0.783},{"c":0.7,"x":0.314,"y":0.744},{"c":0.7,"x":0.471,"y":0.667},{"c":0.7,"x":0.525,"y":0.628},{"c":0.7,"x":0.628,"y":0.525},{"c":0.7,"x":0.667,"y":0.471},{"c":0.7,"x":0.744,"y":0.314},{"c":0.7,"x":0.783,"y":0.157},{"c":0.7,"x":0.785,"y":0.142},{"c":0.7,"x":0.795,"y":0},
{"c":0.7,"x":0.785,"y":-0.142},{"c":0.7,"x":0.783,"y":-0.157},{"c":0.7,"x":0.744,"y":-0.314},{"c":0.7,"x":0.667,"y":-0.471},{"c":0.7,"x":0.628,"y":-0.525},{"c":0.7,"x":0.525,"y":-0.628},{"c":0.7,"x":0.471,"y":-0.667},{"c":0.7,"x":0.314,"y":-0.744},{"c":0.7,"x":0.157,"y":-0.783},{"c":0.7,"x":0.142,"y":-0.785},{"c":0.7,"x":0,"y":-0.795},
{"c":0.7,"x":-0.142,"y":-0.785},{"c":0.7,"x":-0.157,"y":-0.783},{"c":0.7,"x":-0.314,"y":-0.744},{"c":0.7,"x":-0.471,"y":-0.667},{"c":0.7,"x":-0.525,"y":-0.628},{"c":0.7,"x":-0.628,"y":-0.525},{"c":0.7,"x":-0.667,"y":-0.471},{"c":0.7,"x":-0.744,"y":-0.314},{"c":0.7,"x":-0.783,"y":-0.157},{"c":0.7,"x":-0.785,"y":-0.142},{"c":0.7,"x":-0.795,"y":0},
{"c":0.7,"x":-0.785,"y":0.142},{"c":0.7,"x":-0.783,"y":0.157},{"c":0.7,"x":-0.744,"y":0.314},{"c":0.7,"x":-0.667,"y":0.471},{"c":0.7,"x":-0.628,"y":0.525},{"c":0.7,"x":-0.525,"y":0.628},{"c":0.7,"x":-0.471,"y":0.667},{"c":0.7,"x":-0.314,"y":0.744},{"c":0.7,"x":-0.157,"y":0.783},{"c":0.7,"x":-0.142,"y":0.785},{"c":0.7,"x":0,"y":0.795},
{"c":0.8,"x":0,"y":0.644},{"c":0.8,"x":0.15,"y":0.628},{"c":0.8,"x":0.157,"y":0.627},{"c":0.8,"x":0.314,"y":0.571},{"c":0.8,"x":0.456,"y":0.471},{"c":0.8,"x":0.471,"y":0.456},{"c":0.8,"x":0.571,"y":0.314},{"c":0.8,"x":0.627,"y":0.157},{"c":0.8,"x":0.628,"y":0.15},{"c":0.8,"x":0.644,"y":0},
{"c":0.8,"x":0.628,"y":-0.15},{"c":0.8,"x":0.627,"y":-0.157},{"c":0.8,"x":0.571,"y":-0.314},{"c":0.8,"x":0.471,"y":-0.456},{"c":0.8,"x":0.456,"y":-0.471},{"c":0.8,"x":0.314,"y":-0.571},{"c":0.8,"x":0.157,"y":-0.627},{"c":0.8,"x":0.15,"y":-0.628},{"c":0.8,"x":0,"y":-0.644},
{"c":0.8,"x":-0.15,"y":-0.628},{"c":0.8,"x":-0.157,"y":-0.627},{"c":0.8,"x":-0.314,"y":-0.571},{"c":0.8,"x":-0.456,"y":-0.471},{"c":0.8,"x":-0.471,"y":-0.456},{"c":0.8,"x":-0.571,"y":-0.314},{"c":0.8,"x":-0.627,"y":-0.157},{"c":0.8,"x":-0.628,"y":-0.15},{"c":0.8,"x":-0.644,"y":0},
{"c":0.8,"x":-0.628,"y":0.15},{"c":0.8,"x":-0.627,"y":0.157},{"c":0.8,"x":-0.571,"y":0.314},{"c":0.8,"x":-0.471,"y":0.456},{"c":0.8,"x":-0.456,"y":0.471},{"c":0.8,"x":-0.314,"y":0.571},{"c":0.8,"x":-0.157,"y":0.627},{"c":0.8,"x":-0.15,"y":0.628},{"c":0.8,"x":0,"y":0.644},
{"c":0.9,"x":0,"y":0.451},{"c":0.9,"x":0.157,"y":0.425},{"c":0.9,"x":0.314,"y":0.329},{"c":0.9,"x":0.329,"y":0.314},{"c":0.9,"x":0.425,"y":0.157},{"c":0.9,"x":0.451,"y":0},
{"c":0.9,"x":0.425,"y":-0.157},{"c":0.9,"x":0.329,"y":-0.314},{"c":0.9,"x":0.314,"y":-0.329},{"c":0.9,"x":0.157,"y":-0.425},{"c":0.9,"x":0,"y":-0.451},
{"c":0.9,"x":-0.157,"y":-0.425},{"c":0.9,"x":-0.314,"y":-0.329},{"c":0.9,"x":-0.329,"y":-0.314},{"c":0.9,"x":-0.425,"y":-0.157},{"c":0.9,"x":-0.451,"y":0},
{"c":0.9,"x":-0.425,"y":0.157},{"c":0.9,"x":-0.329,"y":0.314},{"c":0.9,"x":-0.314,"y":0.329},{"c":0.9,"x":-0.157,"y":0.425},{"c":0.9,"x":0,"y":0.451}
]
},
"hconcat":[
{
"width":282,"height":307,
"data":{"name":"quiver"},
"encoding":{
"x":{"field":"x","type":"quantitative","scale":{"domain":[-1.728,1.728],"nice":false,"zero":false},"axis":{"values":[-1,0,1],"format":"d","title":null,"labelFont":"DejaVu Serif","labelFontSize":18,"labelPadding":6}},
"y":{"field":"y","type":"quantitative","scale":{"domain":[-1.88,1.88],"nice":false,"zero":false},"axis":{"values":[-1,0,1],"format":"d","title":null,"labelFont":"DejaVu Serif","labelFontSize":18,"labelPadding":6,"minExtent":43,"maxExtent":43}}
},
"layer":[
{"mark":{"type":"point","shape":"circle","filled":true,"size":1,"color":"#555555","opacity":1,"strokeWidth":0}},
{"mark":{"type":"point","shape":"M-0.07,0L0.07,0L0.07,-0.55L0.21,-0.5L0,-1L-0.21,-0.5L-0.07,-0.55Z","filled":true,"color":"black","opacity":1,"strokeWidth":0},
"encoding":{
"angle":{"field":"a","type":"quantitative","scale":null},
"size":{"field":"s","type":"quantitative","scale":{"domain":[0,1],"range":[0,289]},"legend":null}
}}
]
},
{
"width":281,"height":307,
"data":{"name":"contours"},
"mark":{"type":"line","strokeWidth":1.8},
"encoding":{
"x":{"field":"x","type":"quantitative","scale":{"domain":[-1.5708,1.5708],"nice":false,"zero":false},"axis":{"values":[-1,0,1],"format":"d","title":null,"labelFont":"DejaVu Serif","labelFontSize":18,"labelPadding":6}},
"y":{"field":"y","type":"quantitative","scale":{"domain":[-1.72,1.72],"nice":false,"zero":false},"axis":{"values":[-1.5,-1,-0.5,0,0.5,1,1.5],"format":".1f","title":null,"labelFont":"DejaVu Serif","labelFontSize":18,"labelPadding":6,"minExtent":56,"maxExtent":56}},
"color":{"field":"c","type":"nominal","scale":{"domain":[0.1,0.2,0.3,0.4,0.5,0.6,0.7,0.8,0.9],"range":["#482475","#414487","#355f8d","#2a788e","#21918c","#22a884","#44bf70","#7ad151","#bddf26"]},"legend":null},
"order":{"value":null}
}
}
]
}
